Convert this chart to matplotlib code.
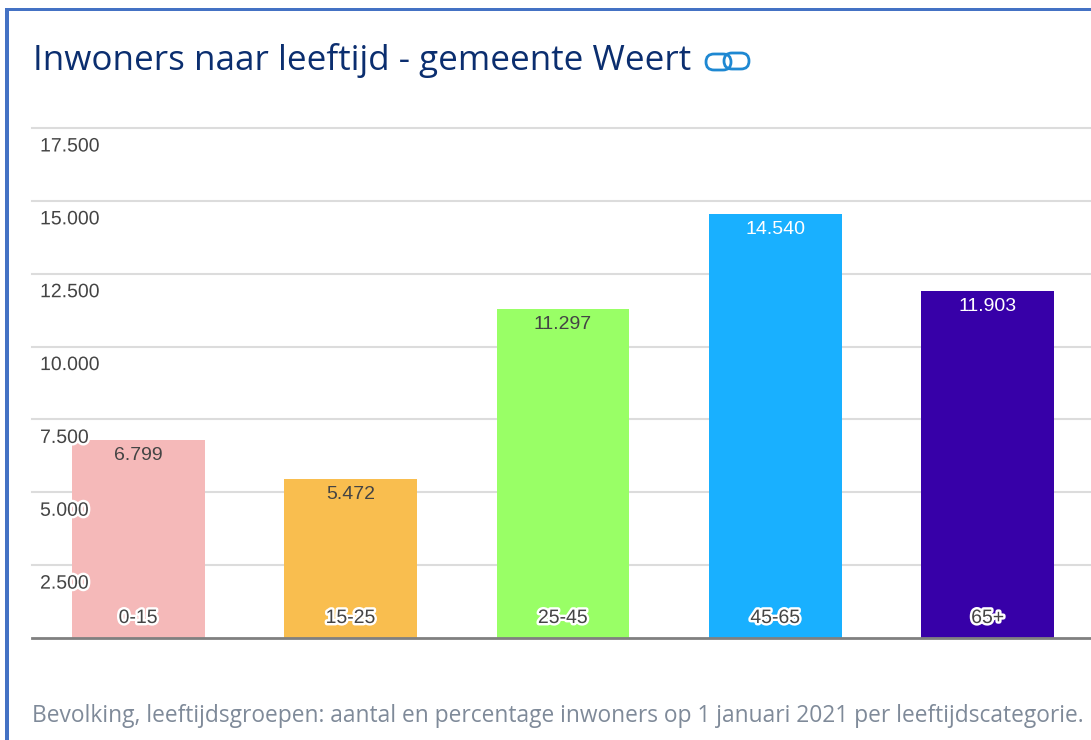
import matplotlib
matplotlib.use('Agg')
import matplotlib.pyplot as plt
import matplotlib.patheffects as pe
from matplotlib.patches import FancyBboxPatch, Rectangle

categories = ['0-15', '15-25', '25-45', '45-65', '65+']
inwoners = [6799, 5472, 11297, 14540, 11903]
bar_colors = ['#F5B9B9', '#F9BE4F', '#99FF66', '#19B0FF', '#3700A8']
value_colors = ['#444444', '#444444', '#444444', '#FFFFFF', '#FFFFFF']
y_ticks = [2500, 5000, 7500, 10000, 12500, 15000, 17500]
y_labels = ['2.500', '5.000', '7.500', '10.000', '12.500', '15.000', '17.500']

W, H = 1091, 740


def fx(px):
    return px / W


def fy(px):
    return 1 - px / H


fig = plt.figure(figsize=(W / 100, H / 100), dpi=100, facecolor='white')

# blue frame of the screenshot
fig.add_artist(Rectangle((fx(5), 0), 4 / W, fy(8), transform=fig.transFigure, color='#4472C4', lw=0))
fig.add_artist(Rectangle((fx(5), fy(11)), 1 - fx(5), 3 / H, transform=fig.transFigure, color='#4472C4', lw=0))

ax = fig.add_axes([fx(32), fy(638), 1062 / W, 510 / H], clip_on=False)
ax.set_xlim(-0.5, 4.5)
ax.set_ylim(0, 17500)
ax.patch.set_alpha(0)
for s in ['top', 'right', 'left']:
    ax.spines[s].set_visible(False)
ax.spines['bottom'].set_color('#808080')
ax.spines['bottom'].set_linewidth(2)
ax.spines['bottom'].set_zorder(4)
ax.set_xticks([])
ax.set_yticks([])

for t in y_ticks:
    ax.axhline(t, color='#DCDCDC', lw=1.5, zorder=1, clip_on=False)

ax.bar(range(len(categories)), inwoners, width=0.625, color=bar_colors, zorder=2)

halo = [pe.withStroke(linewidth=3.5, foreground='white')]

for t, lab in zip(y_ticks, y_labels):
    ax.annotate(lab, (0, t), xycoords=ax.get_yaxis_transform(), xytext=(5.8, -19 * 0.72),
                textcoords='offset points', ha='left', va='center', fontsize=14,
                family='Liberation Sans', color='#444444', zorder=5, path_effects=halo)

for i, v in enumerate(inwoners):
    ax.annotate(f'{v:,}'.replace(',', '.'), (i, v), xytext=(0, -15.5 * 0.72),
                textcoords='offset points', ha='center', va='center', fontsize=14,
                family='Liberation Sans', color=value_colors[i], zorder=5)
    ax.annotate(categories[i], (i, 0), xytext=(0, 19.5 * 0.72),
                textcoords='offset points', ha='center', va='center', fontsize=14,
                family='Liberation Sans', color='#444444', zorder=5, path_effects=halo)

fig.text(fx(33), fy(60), 'Inwoners naar leeftijd - gemeente Weert', fontsize=25.2,
         family='Open Sans', color='#0B2E6F', ha='left', va='center')
fig.text(fx(32), fy(716), 'Bevolking, leeftijdsgroepen: aantal en percentage inwoners op 1 januari 2021 per leeftijdscategorie.',
         fontsize=16.4, family='Open Sans', color='#7F8A99', ha='left', va='center')

# link icon next to the title
for x0, y0 in ((706, 54), (724, 53)):
    fig.add_artist(FancyBboxPatch((x0, H - y0 - 16), 25, 16, boxstyle='round,pad=0,rounding_size=8',
                                  fc='none', ec='#1E88D2', lw=2, transform=None))

fig.savefig('out.png', dpi=100)
